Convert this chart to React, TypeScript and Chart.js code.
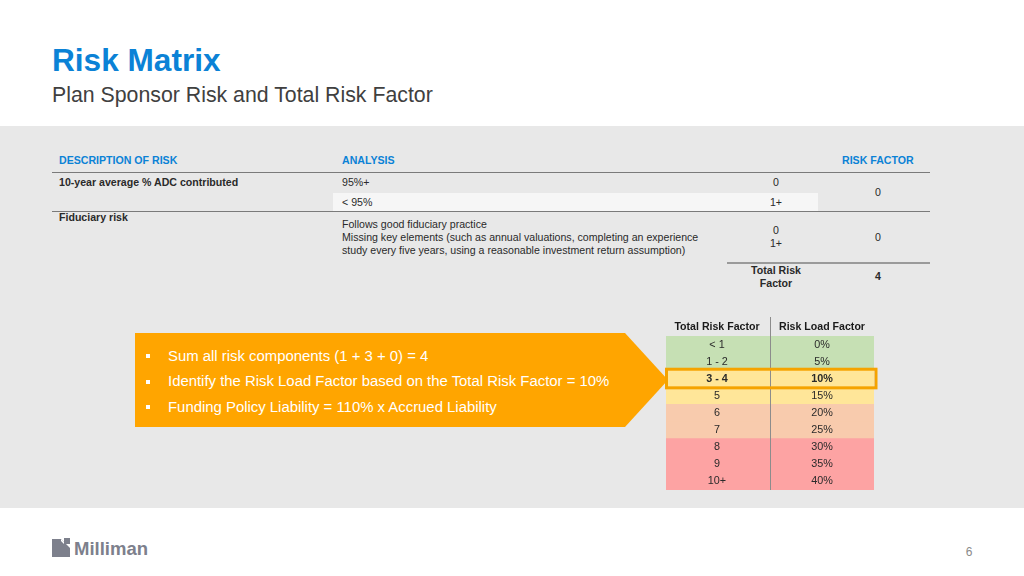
import React, { useEffect, useRef } from "react";
import { Chart, registerables } from "chart.js";

Chart.register(...registerables);

// ---- Data ----
const totalRiskFactors = ["< 1", "1 - 2", "3 - 4", "5", "6", "7", "8", "9", "10+"];
const riskLoadFactors = ["0%", "5%", "10%", "15%", "20%", "25%", "30%", "35%", "40%"];
const rowColors = ["#c6e0b4", "#c6e0b4", "#ffe699", "#ffe699", "#f8cbad", "#f8cbad", "#fda3a3", "#fda3a3", "#fda3a3"];
const highlightIndex = 2;
const tableHeaders = ["Total Risk Factor", "Risk Load Factor"];

const matrixHeaders = ["DESCRIPTION OF RISK", "ANALYSIS", "RISK FACTOR"];
const adcOptions = ["95%+", "< 95%"];
const adcFactors = ["0", "1+"];
const fiduciaryLines = [
  "Follows good fiduciary practice",
  "Missing key elements (such as annual valuations, completing an experience",
  "study every five years, using a reasonable investment return assumption)",
];
const fiduciaryFactors = ["0", "1+"];
const componentFactors = ["0", "0"];
const totalRiskFactor = "4";
const bullets = [
  "Sum all risk components (1 + 3 + 0) = 4",
  "Identify the Risk Load Factor based on the Total Risk Factor = 10%",
  "Funding Policy Liability = 110% x Accrued Liability",
];

const FONT = "'Liberation Sans', Arial, Helvetica, sans-serif";
const BLUE = "#0b82d6";
const TXT = "#2a2a2a";

function T(props: {
  x: number; y: number; text: string; size?: number; bold?: boolean; color?: string; align?: "left" | "center";
}) {
  const size = props.size ?? 10.6;
  const lh = Math.round(size * 1.4);
  return (
    <div
      style={{
        position: "absolute",
        left: props.x,
        top: props.y - lh / 2,
        height: lh,
        lineHeight: lh + "px",
        fontSize: size,
        fontWeight: props.bold ? 700 : 400,
        color: props.color ?? TXT,
        whiteSpace: "nowrap",
        transform: props.align === "center" ? "translateX(-50%)" : undefined,
        fontFamily: FONT,
      }}
    >
      {props.text}
    </div>
  );
}

function RiskLoadTable() {
  const ref = useRef<HTMLCanvasElement | null>(null);
  useEffect(() => {
    if (!ref.current) return;
    const labelPlugin = {
      id: "tableLabels",
      afterDatasetsDraw(chart: any) {
        const { ctx, scales, chartArea } = chart;
        const xs = scales.x;
        const ys = scales.y;
        ctx.save();
        // divider
        const xd = Math.round(xs.getPixelForValue(1)) + 0.5;
        ctx.strokeStyle = "#8c8c8c";
        ctx.lineWidth = 1;
        ctx.beginPath();
        ctx.moveTo(xd, chartArea.top - 19);
        ctx.lineTo(xd, chartArea.bottom);
        ctx.stroke();
        // headers
        ctx.fillStyle = "#1a1a1a";
        ctx.textAlign = "center";
        ctx.textBaseline = "middle";
        ctx.font = `700 10.6px ${FONT}`;
        ctx.fillText(tableHeaders[0], xs.getPixelForValue(0.5) - 1, chartArea.top - 9);
        ctx.fillText(tableHeaders[1], xs.getPixelForValue(1.5), chartArea.top - 9);
        // rows
        totalRiskFactors.forEach((lab, i) => {
          const y = ys.getPixelForValue(i);
          ctx.font = `${i === highlightIndex ? 700 : 400} 10.8px ${FONT}`;
          ctx.fillStyle = TXT;
          ctx.fillText(lab, xs.getPixelForValue(0.5) - 1, y);
          ctx.fillText(riskLoadFactors[i], xs.getPixelForValue(1.5), y);
        });
        // highlight
        const meta = chart.getDatasetMeta(0).data[highlightIndex] as any;
        const h = meta.height;
        const yc = meta.y;
        ctx.strokeStyle = "#f5a300";
        ctx.lineWidth = 3;
        ctx.strokeRect(chartArea.left + 0.5, yc - h / 2 - 1, chartArea.right - chartArea.left + 1.5, h + 1.5);
        ctx.restore();
      },
    };
    const chart = new Chart(ref.current, {
      type: "bar",
      data: {
        labels: totalRiskFactors,
        datasets: [
          {
            data: totalRiskFactors.map(() => [0, 2]) as any,
            backgroundColor: rowColors,
            borderWidth: 0,
            barPercentage: 1,
            categoryPercentage: 1,
          },
        ],
      },
      options: {
        indexAxis: "y",
        animation: false,
        responsive: false,
        maintainAspectRatio: false,
        layout: { padding: { top: 24, left: 6, right: 8, bottom: 4 } },
        plugins: { legend: { display: false }, tooltip: { enabled: false } },
        scales: {
          x: { display: false, min: 0, max: 2 },
          y: { display: false },
        },
      },
      plugins: [labelPlugin],
    });
    return () => chart.destroy();
  }, []);
  return (
    <canvas
      ref={ref}
      width={222}
      height={182}
      style={{ position: "absolute", left: 660, top: 312, width: 222, height: 182 }}
    />
  );
}

export default function App() {
  return (
    <div
      style={{
        position: "fixed",
        left: 0,
        top: 0,
        width: 1024,
        height: 576,
        background: "#ffffff",
        overflow: "hidden",
        fontFamily: FONT,
      }}
    >
      {/* Titles */}
      <T x={52} y={60} text="Risk Matrix" size={31.6} bold color={BLUE} />
      <T x={52} y={95} text="Plan Sponsor Risk and Total Risk Factor" size={21.3} color="#404040" />

      {/* Gray band */}
      <div style={{ position: "absolute", left: 0, top: 126, width: 1024, height: 382, background: "#e8e8e8" }} />

      {/* Upper matrix */}
      <T x={59} y={160} text={matrixHeaders[0]} bold color={BLUE} size={10.6} />
      <T x={342} y={160} text={matrixHeaders[1]} bold color={BLUE} size={10.6} />
      <T x={842} y={160} text={matrixHeaders[2]} bold color={BLUE} size={10.6} />
      <div style={{ position: "absolute", left: 52, top: 172, width: 878, height: 1, background: "#7a7a7a" }} />

      <div style={{ position: "absolute", left: 333, top: 193, width: 485, height: 18, background: "#f6f6f6" }} />
      <T x={59} y={182} text="10-year average % ADC contributed" bold />
      <T x={342} y={182} text={adcOptions[0]} />
      <T x={342} y={202} text={adcOptions[1]} />
      <T x={776} y={182} text={adcFactors[0]} align="center" />
      <T x={776} y={202} text={adcFactors[1]} align="center" />
      <T x={878} y={192} text={componentFactors[0]} align="center" />
      <div style={{ position: "absolute", left: 52, top: 211, width: 878, height: 1, background: "#7a7a7a" }} />

      <T x={59} y={217} text="Fiduciary risk" bold />
      {fiduciaryLines.map((l, i) => (
        <T key={i} x={342} y={224 + i * 13} text={l} />
      ))}
      <T x={776} y={230} text={fiduciaryFactors[0]} align="center" />
      <T x={776} y={243} text={fiduciaryFactors[1]} align="center" />
      <T x={878} y={237} text={componentFactors[1]} align="center" />
      <div style={{ position: "absolute", left: 727, top: 262, width: 203, height: 2, background: "#9a9a9a" }} />
      <T x={776} y={270} text="Total Risk" bold align="center" />
      <T x={776} y={283} text="Factor" bold align="center" />
      <T x={878} y={276} text={totalRiskFactor} bold align="center" />

      {/* Orange arrow */}
      <div
        style={{
          position: "absolute",
          left: 135,
          top: 333,
          width: 533,
          height: 94,
          background: "#ffa500",
          clipPath: "polygon(0 0, 490px 0, 533px 47px, 490px 94px, 0 94px)",
        }}
      />
      {bullets.map((b, i) => (
        <React.Fragment key={i}>
          <div
            style={{
              position: "absolute",
              left: 146,
              top: 356 + i * 25.5 - 2,
              width: 4,
              height: 4,
              background: "#ffffff",
            }}
          />
          <T x={168} y={356 + i * 25.5} text={b} size={14.9} color="#ffffff" />
        </React.Fragment>
      ))}

      <RiskLoadTable />

      {/* Footer */}
      <svg style={{ position: "absolute", left: 52, top: 538 }} width={20} height={20} viewBox="0 0 20 20">
        <path d="M0 1 H9 L18 10 V19 H0 Z" fill="#7d808c" />
        <rect x={12} y={0} width={6} height={6} fill="#7d808c" />
        <path d="M9 1 L12 4 V6 L9 3 Z" fill="#ffffff" />
      </svg>
      <T x={74} y={549} text="Milliman" bold size={18.5} color="#7d808c" />
      <T x={969} y={552} text="6" size={12} color="#8a8a8a" align="center" />
    </div>
  );
}
